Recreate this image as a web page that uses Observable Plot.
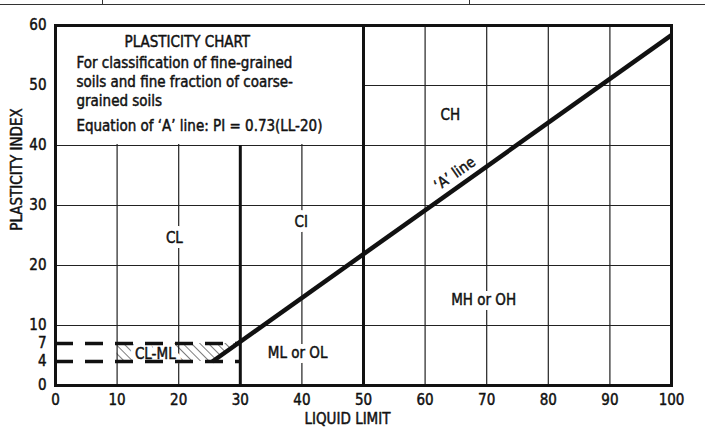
<!DOCTYPE html>
<html>
<head>
<meta charset="utf-8">
<script src="https://cdn.jsdelivr.net/npm/d3@7"></script>
<script src="https://cdn.jsdelivr.net/npm/@observablehq/plot@0.6"></script>
<style>
  html, body { margin: 0; padding: 0; background: #fff; }
  #wrap { position: relative; width: 705px; height: 431px; overflow: hidden; }
  #hdr { position: absolute; left: 0; top: 0; width: 705px; height: 4px; border-bottom: 1.3px solid #333; }
  .vt { position: absolute; top: 0; width: 0; height: 4px; border-left: 1.3px solid #333; }
  #chart g[aria-label$="tick label"] { stroke: #111; stroke-width: 0.45px; }
</style>
</head>
<body>
<div id="wrap">
  <div id="hdr"><div class="vt" style="left:102px"></div><div class="vt" style="left:469px"></div></div>
  <div id="chart"></div>
</div>
<script>
// ---- data ----
const llTicks = [0, 10, 20, 30, 40, 50, 60, 70, 80, 90, 100];
const piTicks = [0, 4, 7, 10, 20, 30, 40, 50, 60];
const gridLL = [10, 20, 40, 60, 70, 80, 90];
const gridPI = [10, 20, 30, 40, 50];
const boundaryLL = [30, 50];
const boundaryTopPI = [40, 60];
const aLineSlope = 0.73;
const aLineOffset = 20;
const aLineStartPI = 4;
const aLineEndLL = 100;
const dashedPI = [4, 7];
const dashedEndLL = 30;
const hatchStartLL = 10;
const boxLL = [0, 50];
const boxPI = [40, 60];
const boxTitle = "PLASTICITY CHART";
const boxLines = [
  "For classification of fine-grained",
  "soils and fine fraction of coarse-",
  "grained soils",
  "Equation of \u2018A\u2019 line: PI = 0.73(LL-20)"
];
const boxTitlePos = {ll: 21.4, pi: 57.3};
const boxLinesLL = 3.4;
const boxLinesPI = [53.75, 50.6, 47.4, 43.2];
const zoneNames = ["CL", "CI", "CH", "MH or OH", "ML or OL", "CL-ML"];
const zoneLL = [19.3, 39.9, 64.1, 69.5, 39.3, 16.2];
const zonePI = [24.5, 27.3, 45.0, 14.3, 5.4, 5.3];
const aLabel = {text: "\u2018A\u2019 line", ll: 64.8, pi: 35.3};
const xTitle = {text: "LIQUID LIMIT", ll: 47.4};
const yTitle = {text: "PLASTICITY INDEX", pi: 25.8};

// ---- derived tables ----
const aPI = ll => aLineSlope * (ll - aLineOffset);
const aLL = pi => pi / aLineSlope + aLineOffset;
const aLinePts = [
  {ll: aLL(aLineStartPI), pi: aLineStartPI},
  {ll: aLineEndLL, pi: aPI(aLineEndLL)}
];
const hatchPts = dashedPI.map(pi => ({pi, ll: aLL(pi)}));
const boundaries = boundaryLL.map((ll, i) => ({ll, top: boundaryTopPI[i]}));
const zones = zoneNames.map((name, i) => ({name, ll: zoneLL[i], pi: zonePI[i]}));
const boxText = boxLines.map((t, i) => ({t, pi: boxLinesPI[i]}));

const FONT = "'Liberation Sans Narrow', 'Arial Narrow', 'DejaVu Sans Condensed', sans-serif";
const INK = "#111";
const EMB = {fill: INK, stroke: INK, strokeWidth: 0.45, fontSize: 15};

const chart = Plot.plot({
  width: 705,
  height: 431,
  marginTop: 25,
  marginBottom: 46,
  marginLeft: 55,
  marginRight: 34,
  style: {fontFamily: FONT, fontSize: "15px", color: INK, background: "white", overflow: "visible"},
  x: {domain: [0, 100], label: null},
  y: {domain: [0, 60], label: null},
  marks: [
    Plot.ruleX(gridLL, {stroke: "#222", strokeWidth: 1.2}),
    Plot.ruleY(gridPI, {stroke: "#222", strokeWidth: 1.2}),
    Plot.rect([{}], {x1: boxLL[0], x2: boxLL[1], y1: boxPI[0], y2: boxPI[1], fill: "white", insetBottom: 1}),
    Plot.areaX(hatchPts, {y: "pi", x1: hatchStartLL, x2: "ll", fill: "url(#hatch)"}),
    Plot.ruleX(boundaries, {x: "ll", y1: 0, y2: "top", stroke: INK, strokeWidth: 3}),
    Plot.text(zones, {x: "ll", y: "pi", text: "name", fill: "white", stroke: "white", strokeWidth: 10, strokeLinejoin: "round", fontSize: 15}),
    Plot.ruleY(dashedPI, {x1: 0, x2: dashedEndLL, stroke: INK, strokeWidth: 3.5, strokeDasharray: "18,12"}),
    Plot.text(zones, {x: "ll", y: "pi", text: "name", ...EMB}),
    Plot.line(aLinePts, {x: "ll", y: "pi", stroke: INK, strokeWidth: 4.5, strokeLinecap: "butt"}),
    Plot.text([aLabel], {x: "ll", y: "pi", text: "text", rotate: -35, ...EMB}),
    Plot.text([boxTitle], {x: boxTitlePos.ll, y: boxTitlePos.pi, text: d => d, ...EMB}),
    Plot.text(boxText, {x: boxLinesLL, y: "pi", text: "t", textAnchor: "start", ...EMB}),
    Plot.frame({stroke: INK, strokeWidth: 3}),
    Plot.axisX({ticks: llTicks, tickSize: 0, tickPadding: 9, tickFormat: d => String(d), fontSize: 15, label: null}),
    Plot.axisY({ticks: piTicks, tickSize: 0, tickPadding: 9, tickFormat: d => String(d), fontSize: 15, label: null}),
    Plot.text([xTitle], {x: "ll", frameAnchor: "bottom", dy: 38, text: "text", ...EMB}),
    Plot.text([yTitle], {y: "pi", frameAnchor: "left", dx: -38, rotate: -90, text: "text", ...EMB})
  ]
});

chart.insertAdjacentHTML("afterbegin",
  '<defs><pattern id="hatch" patternUnits="userSpaceOnUse" width="6" height="6" patternTransform="rotate(-45)">' +
  '<line x1="0" y1="0" x2="0" y2="6" stroke="#111" stroke-width="1.1"/></pattern></defs>');
document.getElementById("chart").appendChild(chart);
</script>
</body>
</html>
